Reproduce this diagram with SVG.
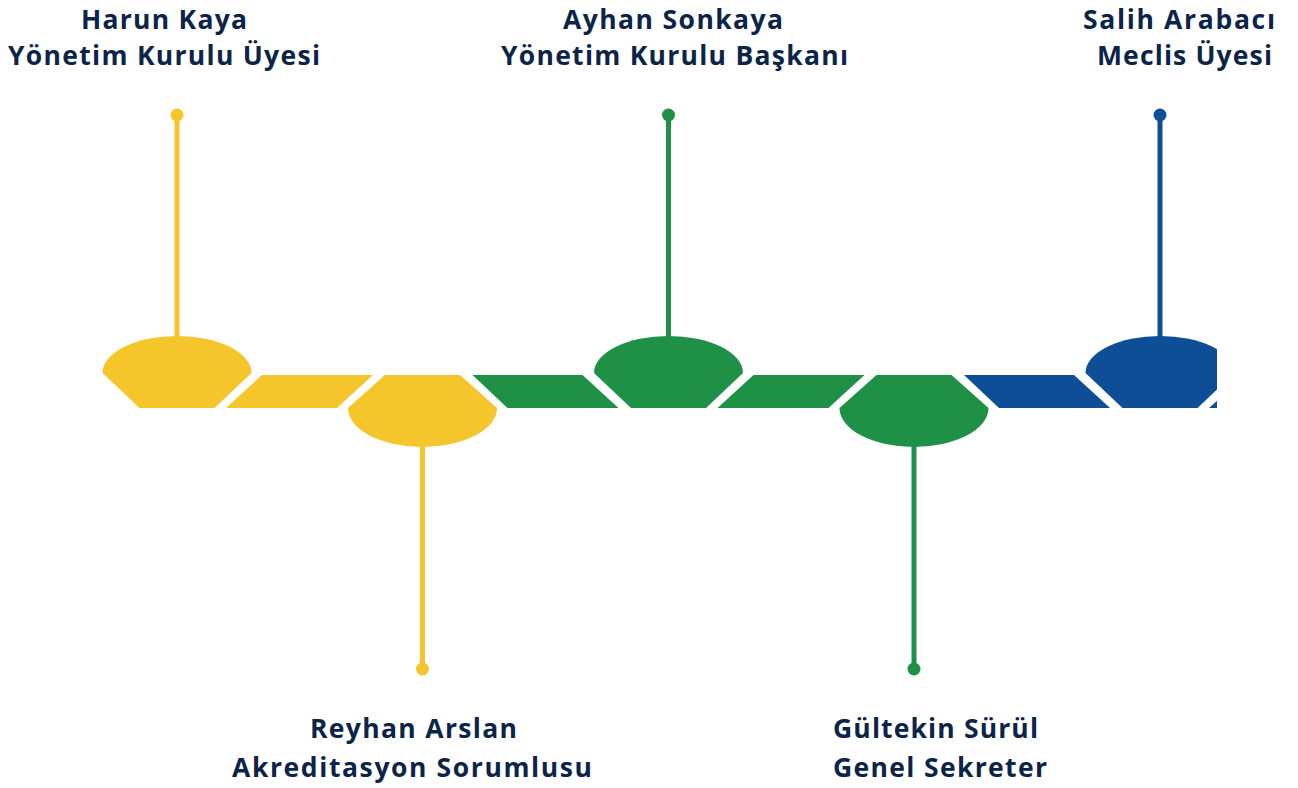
<svg xmlns="http://www.w3.org/2000/svg" width="1298" height="788" viewBox="0 0 1298 788">
<defs>
<style>
.y{fill:#F5C62B}.g{fill:#1E9146}.b{fill:#0E4E96}
.ys{stroke:#F5C62B}.gs{stroke:#1E9146}.bs{stroke:#0E4E96}
.stem{stroke-width:5;fill:none}
text{font-family:"Open Sans","Liberation Sans",sans-serif;font-weight:700;font-size:26.5px;fill:#0B2447}
</style>
<clipPath id="clip"><rect x="0" y="0" width="1217" height="788"/></clipPath>
</defs>
<rect width="1298" height="788" fill="#fff"/>
<g id="connectors" clip-path="url(#clip)">
<polygon class="y" points="226,408 262,375 373,375 337,408"/>
<polygon class="g" points="472.5,375 582.5,375 618.5,408 507.5,408"/>
<polygon class="g" points="717.5,408 753.5,375 864.5,375 828.5,408"/>
<polygon class="b" points="964,375 1074,375 1110,408 999,408"/>
<polygon class="b" points="1209,408 1245,375 1356,375 1320,408"/>
</g>
<g id="n1">
<line class="stem ys" x1="177" y1="115" x2="177" y2="345"/>
<circle class="y" cx="177" cy="115" r="6.5"/>
<path class="y" d="M102.5,373 A74.5 37 0 0 1 251.5,373 L214.5,408 L139.5,408 Z"/>
<text x="81" y="28.5" textLength="166" lengthAdjust="spacing">Harun Kaya</text>
<text x="8" y="65" textLength="312" lengthAdjust="spacing">Yönetim Kurulu Üyesi</text>
</g>
<g id="n2">
<line class="stem ys" x1="422.5" y1="440" x2="422.5" y2="669"/>
<circle class="y" cx="422.5" cy="669" r="6.5"/>
<path class="y" d="M385,375 L460,375 L497,408 A74.5 39 0 0 1 348,408 Z"/>
<text x="310" y="738" textLength="207" lengthAdjust="spacing">Reyhan Arslan</text>
<text x="232" y="777" textLength="360" lengthAdjust="spacing">Akreditasyon Sorumlusu</text>
</g>
<g id="n3">
<line class="stem gs" x1="668.5" y1="115" x2="668.5" y2="345"/>
<circle class="g" cx="668.5" cy="115" r="6.5"/>
<path class="g" d="M594,373 A74.5 37 0 0 1 743,373 L706,408 L631,408 Z"/>
<text x="563" y="28.5" textLength="220" lengthAdjust="spacing">Ayhan Sonkaya</text>
<text x="501" y="65" textLength="347" lengthAdjust="spacing">Yönetim Kurulu Başkanı</text>
</g>
<g id="n4">
<line class="stem gs" x1="914" y1="440" x2="914" y2="669"/>
<circle class="g" cx="914" cy="669" r="6.5"/>
<path class="g" d="M876.5,375 L951.5,375 L988.5,408 A74.5 39 0 0 1 839.5,408 Z"/>
<text x="833" y="738" textLength="205" lengthAdjust="spacing">Gültekin Sürül</text>
<text x="833" y="777" textLength="214" lengthAdjust="spacing">Genel Sekreter</text>
</g>
<g id="n5">
<line class="stem bs" x1="1160" y1="115" x2="1160" y2="345"/>
<circle class="b" cx="1160" cy="115" r="6.5"/>
<path class="b" clip-path="url(#clip)" d="M1085.5,373 A74.5 37 0 0 1 1234.5,373 L1197.5,408 L1122.5,408 Z"/>
<text x="1083" y="28.5" textLength="192" lengthAdjust="spacing">Salih Arabacı</text>
<text x="1097" y="65" textLength="175" lengthAdjust="spacing">Meclis Üyesi</text>
</g>
</svg>
